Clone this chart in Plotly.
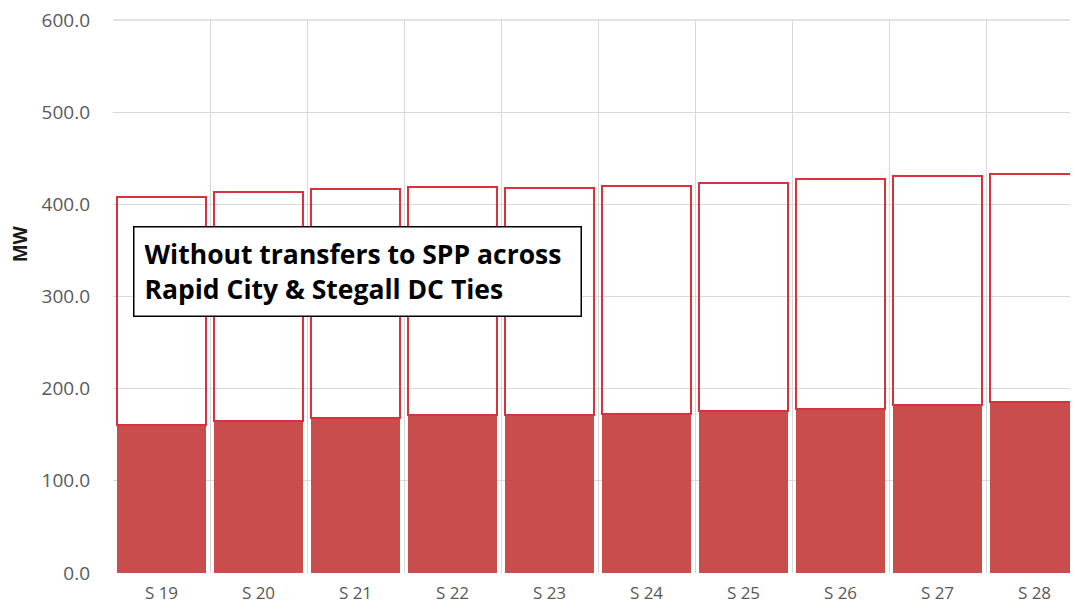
import plotly.graph_objects as go

categories = ["S 19", "S 20", "S 21", "S 22", "S 23", "S 24", "S 25", "S 26", "S 27", "S 28"]
filled_mw = [161, 165, 168, 171, 171, 173, 176, 178, 182, 185]
total_mw = [408, 413, 417, 419, 418, 420, 423, 427, 431, 433]
y_ticks = [0, 100, 200, 300, 400, 500, 600]

upper_mw = [t - f for t, f in zip(total_mw, filled_mw)]
xpos = list(range(len(categories)))
boundaries = [i - 0.5 for i in range(len(categories) + 1)]

FILL = "#C84D4C"
EDGE = "#D8323F"
GRID = "#D9D9D9"

fig = go.Figure()
fig.add_trace(go.Bar(x=xpos, y=filled_mw, marker=dict(color=FILL, line=dict(width=0)),
                     showlegend=False))
fig.add_trace(go.Bar(x=xpos, y=upper_mw, marker=dict(color="rgba(255,255,255,0)",
                     line=dict(color=EDGE, width=2)), showlegend=False))

# top gridline at the axis maximum (plotly skips it at the range edge)
fig.add_shape(type="line", xref="paper", yref="y", x0=0, x1=1, y0=y_ticks[-1], y1=y_ticks[-1],
              line=dict(color=GRID, width=1.5), layer="below")

# page body adds an 8px offset; margins compensate for it
fig.update_layout(
    width=1078, height=610,
    barmode="stack", bargap=0.08,
    paper_bgcolor="white", plot_bgcolor="white",
    margin=dict(l=105, r=0, t=11, b=45, autoexpand=False),
    font=dict(family="Open Sans", color="#595959", size=15),
    xaxis=dict(
        range=[-0.5, -0.5 + 973 / 97],
        tickvals=xpos, ticktext=categories,
        showgrid=False, zeroline=False, showline=False, ticks="",
        ticklabelstandoff=8, automargin=False,
        tickfont=dict(size=17, color="#595959"),
        minor=dict(tickvals=boundaries, showgrid=True, gridcolor=GRID, gridwidth=1.2),
    ),
    yaxis=dict(
        range=[0, 601], tickvals=y_ticks, tickformat=".1f",
        showgrid=True, gridcolor=GRID, gridwidth=1.2,
        zeroline=False, showline=False, ticks="",
        ticklabelstandoff=22, automargin=False, ticklabeloverflow="allow",
        tickfont=dict(size=19, color="#595959"),
    ),
    annotations=[
        dict(text="<b>MW</b>", xref="paper", yref="paper", x=-0.0956, y=0.595,
             xanchor="center", yanchor="middle",
             textangle=-90, showarrow=False, font=dict(size=19, color="#1a1a1a")),
        dict(text="<b>Without transfers to SPP across<br>Rapid City &amp; Stegall DC Ties</b>",
             xref="paper", yref="paper", x=0.0206, y=0.627, xanchor="left", yanchor="top",
             align="left", showarrow=False, bgcolor="white", bordercolor="black",
             borderwidth=1.5, borderpad=10, width=426, height=68,
             font=dict(family="Open Sans", size=26.5, color="black")),
    ],
)

fig.write_html("out.html")
